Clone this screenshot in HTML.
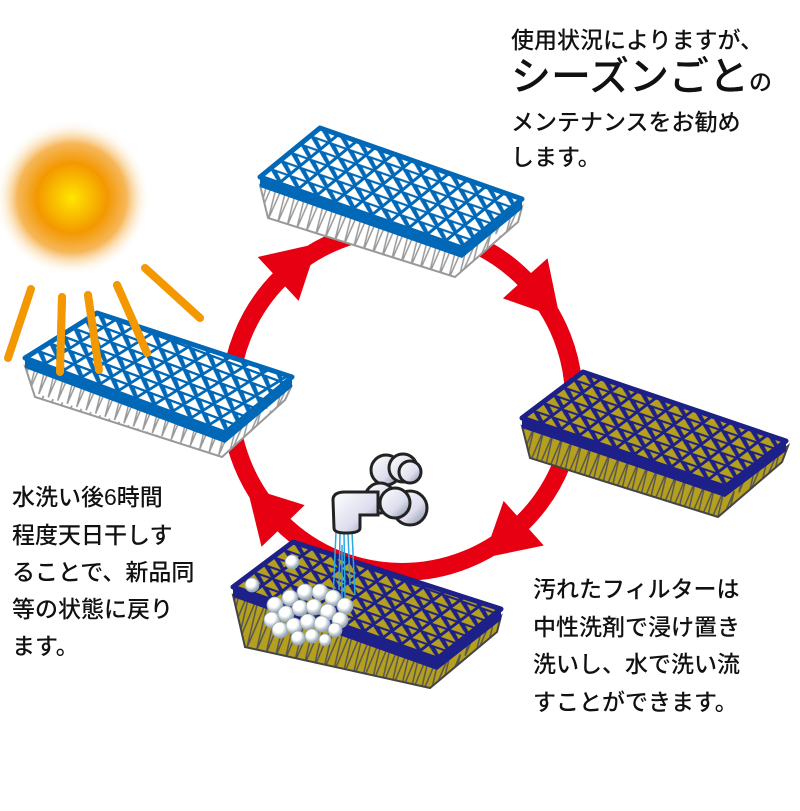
<!DOCTYPE html>
<html><head><meta charset="utf-8"><style>
html,body{margin:0;padding:0;background:#fff;}
svg{display:block;}
text{font-family:"Liberation Sans","Noto Sans CJK JP",sans-serif;fill:#111;font-weight:500;}
</style></head><body>
<svg width="800" height="811" viewBox="0 0 800 811" xmlns="http://www.w3.org/2000/svg">
<defs>
<radialGradient id="sun" cx="0.5" cy="0.5" r="0.5">
<stop offset="0" stop-color="#ffe600"/>
<stop offset="0.45" stop-color="#f39800"/>
<stop offset="0.7" stop-color="#f6b75a"/>
<stop offset="1" stop-color="#fff" stop-opacity="0"/>
</radialGradient>
<pattern id="pb1" patternUnits="userSpaceOnUse" width="100" height="100" patternTransform="matrix(0.184,0.065,0.10,-0.082,260,177)">
<rect width="100" height="100" fill="#0068b7"/><polygon points="10,10 92,10 10,90" fill="#fff"/><polygon points="92,40 92,90 45,90" fill="#fff"/>
</pattern>
<pattern id="pb2" patternUnits="userSpaceOnUse" width="100" height="100" patternTransform="matrix(0.182,0.068,0.12,-0.075,25,358)">
<rect width="100" height="100" fill="#0068b7"/><polygon points="10,10 92,10 10,90" fill="#fff"/><polygon points="92,40 92,90 45,90" fill="#fff"/>
</pattern>
<pattern id="py1" patternUnits="userSpaceOnUse" width="100" height="100" patternTransform="matrix(0.184,0.063,0.102,-0.077,522,418)">
<rect width="100" height="100" fill="#1d2088"/><polygon points="10,10 92,10 10,90" fill="#b5a01e"/><polygon points="92,40 92,90 45,90" fill="#b5a01e"/>
</pattern>
<pattern id="py2" patternUnits="userSpaceOnUse" width="100" height="100" patternTransform="matrix(0.185,0.065,0.10,-0.075,233,587)">
<rect width="100" height="100" fill="#1d2088"/><polygon points="10,10 92,10 10,90" fill="#b5a01e"/><polygon points="92,40 92,90 45,90" fill="#b5a01e"/>
</pattern>
<pattern id="pl" patternUnits="userSpaceOnUse" width="10" height="60" patternTransform="rotate(19)">
<rect width="10" height="60" fill="#fff"/>
<path d="M0 0 L5 60 L10 0" fill="none" stroke="#999" stroke-width="1.5"/>
</pattern>
<pattern id="plo" patternUnits="userSpaceOnUse" width="10" height="60" patternTransform="rotate(18)">
<rect width="10" height="60" fill="#b5a01e"/>
<path d="M0 0 L5 60 L10 0" fill="none" stroke="#555" stroke-width="1.5"/>
</pattern>
<radialGradient id="bub" cx="0.4" cy="0.35" r="0.6">
<stop offset="0.5" stop-color="#fff"/><stop offset="1" stop-color="#9ab"/>
</radialGradient>
<linearGradient id="met" x1="0" y1="0" x2="1" y2="1">
<stop offset="0" stop-color="#fff"/><stop offset="0.6" stop-color="#dde"/><stop offset="1" stop-color="#7a8a99"/>
</linearGradient>
</defs>

<circle cx="72" cy="198" r="78" fill="url(#sun)"/>
<g stroke="#f39800" stroke-width="8" stroke-linecap="round">
<line x1="31" y1="289" x2="8" y2="358"/>
<line x1="62" y1="297" x2="60" y2="372"/>
<line x1="88" y1="295" x2="99" y2="370"/>
<line x1="117" y1="285" x2="147" y2="353"/>
<line x1="145" y1="268" x2="200" y2="318"/>
</g>

<circle cx="402" cy="400" r="172" fill="none" stroke="#e60012" stroke-width="18"/>
<g fill="#e60012">
<g transform="rotate(-133 402 400)"><polygon points="545,392 605,392 574,445"/></g>
<g transform="rotate(-42 402 400)"><polygon points="545,392 605,392 574,445"/></g>
<g transform="rotate(48 402 400)"><polygon points="545,392 605,392 574,445"/></g>
<g transform="rotate(136 402 400)"><polygon points="545,392 605,392 574,445"/></g>
</g>

<polygon points="260,185 462,256 522,207 518,222 455,277 268,218" fill="url(#pl)" stroke="#999" stroke-width="2"/>
<polygon points="260,177 462,248 462,258 260,187" fill="#0068b7"/>
<polygon points="462,248 522,199 522,209 462,258" fill="#0068b7"/>
<polygon points="260,177 320,128 522,199 462,248" fill="url(#pb1)" stroke="#0068b7" stroke-width="5" stroke-linejoin="round"/>

<polygon points="25,366 225,441 292,385 285,400 222,457 35,397" fill="url(#pl)" stroke="#999" stroke-width="2"/>
<polygon points="25,358 225,433 225,443 25,368" fill="#0068b7"/>
<polygon points="225,433 292,377 292,387 225,443" fill="#0068b7"/>
<polygon points="25,358 97,313 292,377 225,433" fill="url(#pb2)" stroke="#0068b7" stroke-width="5" stroke-linejoin="round"/>
<g stroke="#f39800" stroke-width="8" stroke-linecap="round">
<line x1="62" y1="297" x2="60" y2="372"/>
<line x1="88" y1="295" x2="99" y2="370"/>
<line x1="117" y1="285" x2="147" y2="353"/>
</g>

<polygon points="522,426 725,495 788,446 782,462 718,517 530,458" fill="url(#plo)" stroke="#444" stroke-width="2"/>
<polygon points="522,418 725,487 725,497 522,428" fill="#1d2088"/>
<polygon points="725,487 786,441 786,451 725,497" fill="#1d2088"/>
<polygon points="522,418 583,372 786,441 725,487" fill="url(#py1)" stroke="#1d2088" stroke-width="5" stroke-linejoin="round"/>

<polygon points="233,595 437,665 501,616 497,632 430,688 245,647" fill="url(#plo)" stroke="#444" stroke-width="2"/>
<polygon points="233,587 437,659 437,670 233,597" fill="#1d2088"/>
<polygon points="437,659 501,609 501,620 437,670" fill="#1d2088"/>
<polygon points="233,587 293,542 501,609 437,659" fill="url(#py2)" stroke="#1d2088" stroke-width="5" stroke-linejoin="round"/>

<g stroke="#2ea7e0" stroke-width="1.5">
<line x1="336" y1="532" x2="333" y2="600"/><line x1="340" y1="532" x2="339" y2="590"/>
<line x1="344" y1="532" x2="345" y2="598"/><line x1="348" y1="532" x2="350" y2="585"/>
<line x1="352" y1="532" x2="355" y2="595"/><line x1="342" y1="545" x2="342" y2="605"/>
</g>
<g stroke="#222" stroke-width="3" fill="url(#met)">
<circle cx="386" cy="470" r="15"/><circle cx="403" cy="468" r="14"/>
<circle cx="380" cy="498" r="15"/><circle cx="410" cy="508" r="17"/><circle cx="395" cy="503" r="15"/>
<path d="M333 500 Q333 492 345 492 L378 492 L378 515 L360 515 L360 528 Q360 533 346 533 Q334 533 334 528 Z"/>
<circle cx="410" cy="472" r="11"/>
</g>
<g fill="url(#bub)" stroke="#9aa" stroke-width="0.8">
<circle cx="252" cy="585" r="7"/><circle cx="292" cy="562" r="7"/>
<circle cx="275" cy="605" r="8"/><circle cx="290" cy="598" r="8"/><circle cx="305" cy="592" r="8"/><circle cx="320" cy="592" r="8"/><circle cx="333" cy="598" r="8"/><circle cx="345" cy="606" r="8"/>
<circle cx="272" cy="620" r="8"/><circle cx="286" cy="614" r="8"/><circle cx="300" cy="608" r="8"/><circle cx="314" cy="607" r="8"/><circle cx="328" cy="612" r="8"/><circle cx="340" cy="620" r="8"/>
<circle cx="280" cy="630" r="8"/><circle cx="294" cy="626" r="8"/><circle cx="308" cy="622" r="8"/><circle cx="322" cy="624" r="8"/><circle cx="335" cy="630" r="7"/>
<circle cx="298" cy="638" r="7"/><circle cx="312" cy="636" r="7"/><circle cx="325" cy="640" r="6"/>
</g>

<text x="511" y="48" font-size="23">使用状況によりますが、</text>
<text x="511" y="90" font-size="40" font-weight="bold" fill="#000">シーズンごと<tspan font-size="23" font-weight="500">の</tspan></text>
<text x="511" y="130" font-size="23">メンテナンスをお勧め</text>
<text x="511" y="165" font-size="23">します。</text>

<text x="12" y="505" font-size="23">水洗い後6時間</text>
<text x="12" y="543" font-size="23">程度天日干しす</text>
<text x="12" y="580" font-size="23">ることで、新品同</text>
<text x="12" y="617" font-size="23">等の状態に戻り</text>
<text x="12" y="654" font-size="23">ます。</text>

<text x="533" y="597" font-size="23">汚れたフィルターは</text>
<text x="533" y="635" font-size="23">中性洗剤で浸け置き</text>
<text x="533" y="672" font-size="23">洗いし、水で洗い流</text>
<text x="533" y="710" font-size="23">すことができます。</text>
</svg>
</body></html>
